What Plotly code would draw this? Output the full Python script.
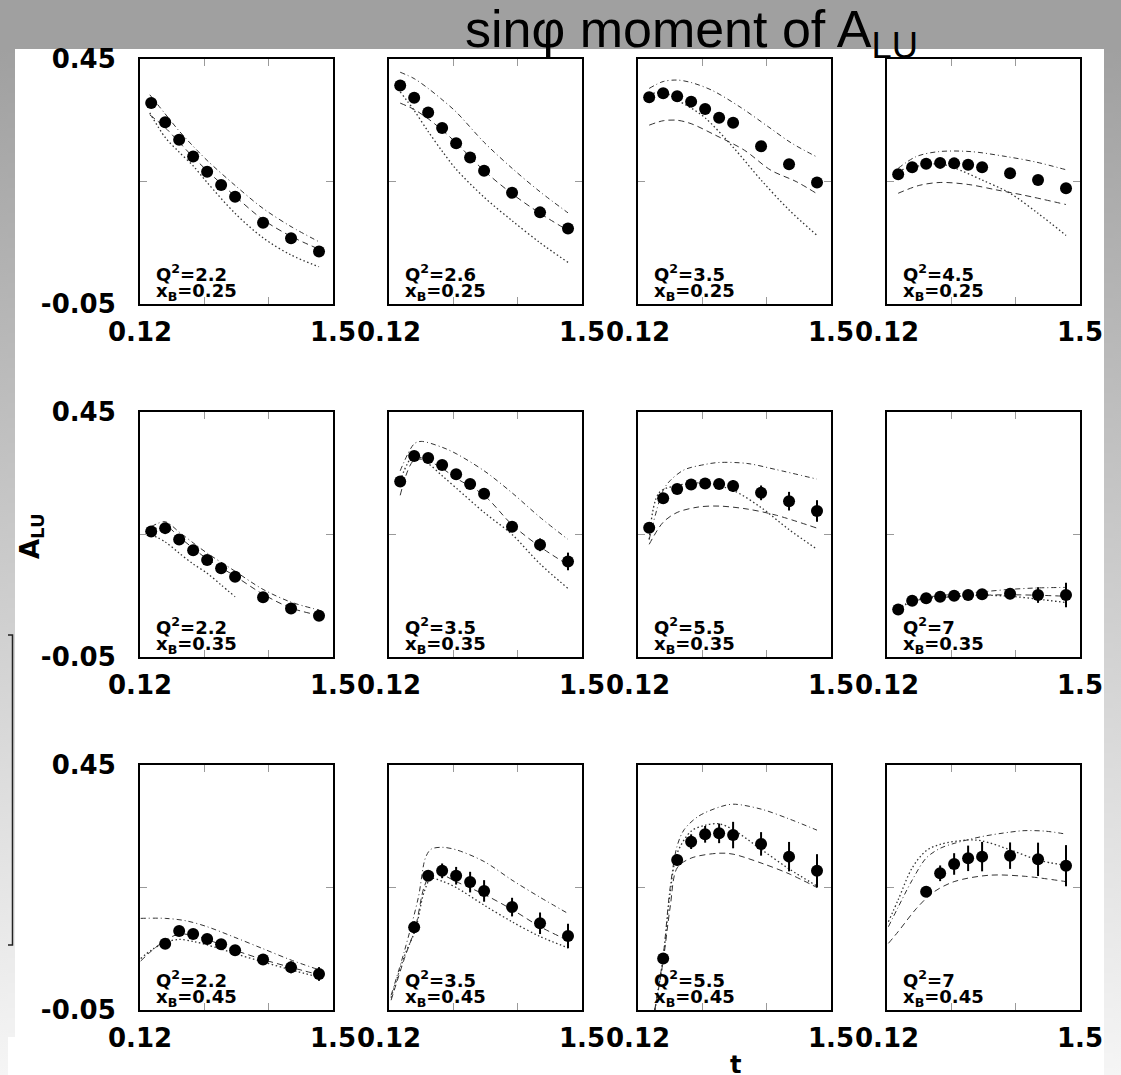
import plotly.graph_objects as go

# the page body keeps its default 8px margin, so the figure is placed 8px in
REF_W, REF_H = 1121, 1075
OFF = 8
W, H = REF_W - 2 * OFF, REF_H - OFF

# ---------------- data ----------------
Q2_LABELS = ["2.2", "2.6", "3.5", "4.5", "2.2", "3.5", "5.5", "7", "2.2", "3.5", "5.5", "7"]
XB_LABELS = ["0.25"] * 4 + ["0.35"] * 4 + ["0.45"] * 4

T_BINS = [0.2, 0.3, 0.4, 0.5, 0.6, 0.7, 0.8, 1.0, 1.2, 1.4]
POINT_T = [T_BINS] * 8 + [T_BINS[1:]] * 3 + [T_BINS[2:]]

POINT_A = [
    [0.360, 0.321, 0.285, 0.251, 0.220, 0.193, 0.169, 0.116, 0.084, 0.057],
    [0.396, 0.371, 0.341, 0.309, 0.278, 0.249, 0.222, 0.177, 0.137, 0.104],
    [0.372, 0.380, 0.374, 0.363, 0.348, 0.330, 0.320, 0.272, 0.235, 0.198],
    [0.215, 0.229, 0.236, 0.238, 0.237, 0.234, 0.229, 0.217, 0.203, 0.186],
    [0.206, 0.213, 0.190, 0.168, 0.148, 0.131, 0.114, 0.072, 0.049, 0.034],
    [0.308, 0.360, 0.356, 0.342, 0.323, 0.303, 0.283, 0.216, 0.179, 0.145],
    [0.214, 0.274, 0.293, 0.302, 0.304, 0.303, 0.299, 0.285, 0.268, 0.248],
    [0.047, 0.065, 0.070, 0.073, 0.075, 0.0765, 0.078, 0.079, 0.0765, 0.0765],
    [0.085, 0.111, 0.105, 0.095, 0.084, 0.072, 0.053, 0.037, 0.0235],
    [0.119, 0.224, 0.234, 0.224, 0.211, 0.193, 0.160, 0.127, 0.101],
    [0.055, 0.256, 0.2935, 0.3085, 0.3105, 0.307, 0.289, 0.263, 0.234],
    [0.1915, 0.229, 0.248, 0.2595, 0.263, 0.265, 0.2575, 0.2445],
]

POINT_ERR = [
    [0.004] * 10,
    [0.004] * 10,
    [0.004, 0.004, 0.004, 0.004, 0.005, 0.005, 0.005, 0.006, 0.007, 0.008],
    [0.004, 0.004, 0.004, 0.004, 0.004, 0.005, 0.005, 0.006, 0.008, 0.011],
    [0.004, 0.004, 0.004, 0.004, 0.004, 0.004, 0.004, 0.005, 0.005, 0.005],
    [0.004, 0.004, 0.005, 0.005, 0.006, 0.006, 0.007, 0.011, 0.013, 0.018],
    [0.006, 0.006, 0.006, 0.007, 0.008, 0.009, 0.012, 0.015, 0.019, 0.022],
    [0.004, 0.004, 0.004, 0.005, 0.005, 0.006, 0.008, 0.011, 0.016, 0.025],
    [0.006, 0.006, 0.007, 0.008, 0.009, 0.010, 0.011, 0.012, 0.014],
    [0.012, 0.009, 0.015, 0.018, 0.021, 0.022, 0.019, 0.022, 0.025],
    [0.011, 0.011, 0.015, 0.017, 0.020, 0.027, 0.024, 0.030, 0.034],
    [0.010, 0.016, 0.022, 0.026, 0.030, 0.027, 0.034, 0.042],
]

# model curves (dash-dot, dashed, dotted)
DASHDOT_T = [
    [0.19, 0.3, 0.4, 0.5, 0.6, 0.8, 1.0, 1.2, 1.4],
    [0.2, 0.3, 0.4, 0.5, 0.6, 0.8, 1.0, 1.2, 1.4],
    [0.2, 0.3, 0.4, 0.5, 0.65, 0.85, 1.05, 1.22, 1.4],
    [0.2, 0.33, 0.49, 0.72, 0.97, 1.18, 1.4],
    [0.2, 0.3, 0.4, 0.5, 0.6, 0.8, 1.0, 1.2, 1.4],
    [0.2, 0.3, 0.35, 0.5, 0.6, 0.8, 1.0, 1.2, 1.4],
    [0.2, 0.3, 0.35, 0.45, 0.6, 0.7, 0.9, 1.1, 1.4],
    [0.2, 0.3, 0.4, 0.6, 0.8, 1.0, 1.2, 1.4],
    [0.125, 0.3, 0.45, 0.6, 0.8, 1.0, 1.2, 1.4],
    [0.135, 0.23, 0.33, 0.38, 0.42, 0.5, 0.6, 0.8, 1.0, 1.2, 1.4],
    [0.24, 0.3, 0.35, 0.4, 0.45, 0.55, 0.7, 0.8, 1.0, 1.2, 1.4],
    [0.13, 0.2, 0.3, 0.4, 0.5, 0.6, 0.8, 1.0, 1.1, 1.25, 1.4],
]
DASHDOT_A = [
    [0.377, 0.338, 0.303, 0.272, 0.243, 0.192, 0.145, 0.108, 0.077],
    [0.423, 0.41, 0.39, 0.367, 0.342, 0.28, 0.227, 0.179, 0.136],
    [0.39, 0.404, 0.407, 0.402, 0.386, 0.352, 0.312, 0.278, 0.25],
    [0.227, 0.251, 0.261, 0.261, 0.251, 0.24, 0.224],
    [0.216, 0.226, 0.205, 0.183, 0.162, 0.125, 0.088, 0.062, 0.046],
    [0.33, 0.385, 0.39, 0.378, 0.365, 0.33, 0.285, 0.235, 0.19],
    [0.19, 0.29, 0.31, 0.332, 0.343, 0.347, 0.345, 0.333, 0.313],
    [0.05, 0.066, 0.072, 0.078, 0.083, 0.088, 0.091, 0.092],
    [0.137, 0.137, 0.132, 0.12, 0.098, 0.075, 0.052, 0.032],
    [-0.02, 0.07, 0.18, 0.26, 0.278, 0.282, 0.277, 0.253, 0.215, 0.18, 0.147],
    [-0.05, 0.06, 0.2, 0.285, 0.318, 0.345, 0.364, 0.37, 0.36, 0.34, 0.317],
    [0.12, 0.16, 0.215, 0.26, 0.28, 0.29, 0.304, 0.313, 0.316, 0.315, 0.309],
]

DASHED_T = [
    [0.19, 0.3, 0.4, 0.5, 0.6, 0.8, 1.0, 1.2, 1.4],
    [0.2, 0.3, 0.4, 0.5, 0.6, 0.8, 1.0, 1.2, 1.4],
    [0.2, 0.3, 0.4, 0.5, 0.67, 0.88, 1.07, 1.25, 1.4],
    [0.2, 0.35, 0.5, 0.7, 0.9, 1.1, 1.4],
    [0.2, 0.3, 0.4, 0.5, 0.6, 0.8, 1.0, 1.2, 1.4],
    [0.2, 0.3, 0.4, 0.5, 0.6, 0.8, 1.0, 1.2, 1.4],
    [0.2, 0.3, 0.4, 0.55, 0.7, 0.9, 1.1, 1.4],
    [0.2, 0.3, 0.4, 0.6, 0.8, 1.0, 1.2, 1.4],
    [0.125, 0.2, 0.3, 0.4, 0.5, 0.6, 0.8, 1.0, 1.2, 1.4],
    [0.135, 0.23, 0.31, 0.37, 0.42, 0.5, 0.6, 0.8, 1.0, 1.2, 1.4],
    [0.24, 0.3, 0.35, 0.4, 0.5, 0.7, 0.8, 1.0, 1.2, 1.4],
    [0.13, 0.2, 0.33, 0.45, 0.6, 0.85, 1.1, 1.4],
]
DASHED_A = [
    [0.336, 0.31, 0.28, 0.25, 0.222, 0.17, 0.122, 0.088, 0.062],
    [0.36, 0.347, 0.328, 0.305, 0.279, 0.222, 0.175, 0.135, 0.1],
    [0.315, 0.324, 0.325, 0.318, 0.295, 0.264, 0.223, 0.2, 0.175],
    [0.176, 0.192, 0.198, 0.194, 0.183, 0.172, 0.153],
    [0.206, 0.218, 0.195, 0.172, 0.15, 0.115, 0.078, 0.05, 0.035],
    [0.28, 0.352, 0.35, 0.335, 0.315, 0.28, 0.22, 0.175, 0.138],
    [0.18, 0.225, 0.245, 0.256, 0.258, 0.252, 0.24, 0.213],
    [0.046, 0.063, 0.069, 0.073, 0.076, 0.077, 0.076, 0.074],
    [0.05, 0.07, 0.092, 0.105, 0.102, 0.094, 0.072, 0.053, 0.037, 0.022],
    [-0.03, 0.055, 0.12, 0.2, 0.228, 0.226, 0.212, 0.186, 0.155, 0.12, 0.092],
    [-0.05, 0.05, 0.16, 0.24, 0.26, 0.27, 0.268, 0.25, 0.228, 0.2],
    [0.086, 0.11, 0.157, 0.19, 0.212, 0.225, 0.223, 0.212],
]

DOTTED_T = [
    [0.19, 0.3, 0.4, 0.5, 0.6, 0.8, 1.0, 1.2, 1.4],
    [0.2, 0.3, 0.4, 0.5, 0.6, 0.8, 1.0, 1.2, 1.4],
    [0.2, 0.3, 0.4, 0.5, 0.6, 0.8, 1.0, 1.2, 1.4],
    [0.2, 0.35, 0.5, 0.6, 0.8, 1.0, 1.2, 1.4],
    [0.2, 0.3, 0.4, 0.5, 0.6, 0.7, 0.8],
    [0.2, 0.3, 0.4, 0.5, 0.6, 0.8, 1.0, 1.2, 1.4],
    [0.2, 0.27, 0.4, 0.6, 0.8, 1.0, 1.2, 1.4],
    [0.2, 0.3, 0.4, 0.6, 0.8, 1.0, 1.2, 1.4],
    [0.125, 0.2, 0.3, 0.4, 0.5, 0.6, 0.8, 1.0, 1.2, 1.4],
    [0.135, 0.23, 0.31, 0.37, 0.42, 0.5, 0.6, 0.8, 1.0, 1.2, 1.4],
    [0.24, 0.3, 0.35, 0.4, 0.5, 0.6, 0.7, 0.8, 1.0, 1.2, 1.4],
    [0.13, 0.2, 0.3, 0.4, 0.5, 0.7, 0.8, 1.0, 1.2, 1.4],
]
DOTTED_A = [
    [0.34, 0.29, 0.26, 0.232, 0.198, 0.135, 0.085, 0.05, 0.026],
    [0.383, 0.345, 0.302, 0.262, 0.225, 0.168, 0.12, 0.075, 0.035],
    [0.377, 0.383, 0.366, 0.35, 0.33, 0.27, 0.203, 0.142, 0.09],
    [0.222, 0.232, 0.236, 0.228, 0.203, 0.176, 0.135, 0.09],
    [0.2, 0.185, 0.162, 0.14, 0.121, 0.097, 0.073],
    [0.31, 0.362, 0.345, 0.32, 0.295, 0.245, 0.2, 0.14, 0.09],
    [0.19, 0.285, 0.3, 0.305, 0.29, 0.255, 0.21, 0.17],
    [0.047, 0.064, 0.07, 0.074, 0.076, 0.074, 0.068, 0.061],
    [0.055, 0.072, 0.088, 0.094, 0.09, 0.083, 0.065, 0.048, 0.032, 0.017],
    [-0.025, 0.06, 0.115, 0.19, 0.218, 0.213, 0.2, 0.164, 0.13, 0.1, 0.077],
    [-0.05, 0.055, 0.19, 0.27, 0.315, 0.327, 0.33, 0.318, 0.278, 0.238, 0.203],
    [0.13, 0.175, 0.24, 0.275, 0.288, 0.297, 0.295, 0.277, 0.256, 0.245],
]

X_RANGE = [0.12, 1.5]
Y_RANGE = [-0.05, 0.45]
X_TICKS = [0.12, 0.58, 1.04, 1.5]
X_TICKTEXT = ["0.12", "", "", "1.5"]
Y_TICKS = [-0.05, 0.2, 0.45]
Y_TICKTEXT = ["-0.05", "", "0.45"]

# ---------------- layout geometry (pixels of the reference page) ----------------
COL_LEFT = [140, 389, 638, 887]
PANEL_W = 193
ROW_TOP = [59, 412, 765]
PANEL_H = 245


def px(x):
    return (x - OFF) / W


def py(y):
    return 1 - (y - OFF) / H


BOLD = dict(family="DejaVu Sans", weight="bold", color="black")
CURVE_COLOR = "#333333"

fig = go.Figure()
layout = {}
annotations = []

for k in range(12):
    r, c = divmod(k, 4)
    xa = "x" if k == 0 else f"x{k + 1}"
    ya = "y" if k == 0 else f"y{k + 1}"
    xkey = "xaxis" if k == 0 else f"xaxis{k + 1}"
    ykey = "yaxis" if k == 0 else f"yaxis{k + 1}"

    L = COL_LEFT[c]
    T = ROW_TOP[r]
    layout[xkey] = dict(
        domain=[px(L), px(L + PANEL_W)], anchor=ya, range=X_RANGE,
        tickmode="array", tickvals=X_TICKS, ticktext=X_TICKTEXT,
        ticks="inside", ticklen=7, tickwidth=1, tickcolor="#9a9a9a",
        showline=True, linecolor="black", linewidth=2, mirror="ticks",
        showgrid=False, zeroline=False, automargin=False,
        tickfont=dict(size=26, **BOLD), ticklabelstandoff=4,
    )
    layout[ykey] = dict(
        domain=[py(T + PANEL_H), py(T)], anchor=xa, range=Y_RANGE,
        tickmode="array", tickvals=Y_TICKS, ticktext=Y_TICKTEXT,
        ticks="inside", ticklen=7, tickwidth=1, tickcolor="#9a9a9a",
        showline=True, linecolor="black", linewidth=2, mirror="ticks",
        showgrid=False, zeroline=False, showticklabels=(c == 0), automargin=False,
        tickfont=dict(size=26, **BOLD), ticklabelstandoff=17,
    )

    fig.add_trace(go.Scatter(
        x=DASHDOT_T[k], y=DASHDOT_A[k], xaxis=xa, yaxis=ya, mode="lines",
        line=dict(color=CURVE_COLOR, width=1, dash="5px,3px,1px,3px", shape="spline", smoothing=0.9),
        hoverinfo="skip"))
    fig.add_trace(go.Scatter(
        x=DASHED_T[k], y=DASHED_A[k], xaxis=xa, yaxis=ya, mode="lines",
        line=dict(color=CURVE_COLOR, width=1, dash="6px,4px", shape="spline", smoothing=0.9),
        hoverinfo="skip"))
    fig.add_trace(go.Scatter(
        x=DOTTED_T[k], y=DOTTED_A[k], xaxis=xa, yaxis=ya, mode="lines",
        line=dict(color=CURVE_COLOR, width=1.3, dash="1.5px,2.5px", shape="spline", smoothing=0.9),
        hoverinfo="skip"))
    fig.add_trace(go.Scatter(
        x=POINT_T[k], y=POINT_A[k], xaxis=xa, yaxis=ya, mode="markers",
        marker=dict(color="black", size=12, line=dict(width=0)),
        error_y=dict(type="data", array=POINT_ERR[k], color="black", thickness=2, width=0),
        cliponaxis=False))

    annotations.append(dict(
        text=f"<b>Q<sup>2</sup>={Q2_LABELS[k]}</b>", xref=f"{xa} domain", yref=f"{ya} domain",
        x=0, y=0, xanchor="left", yanchor="middle", xshift=14, yshift=31,
        showarrow=False, font=dict(size=18, **BOLD)))
    annotations.append(dict(
        text=f"<b>x<sub>B</sub>={XB_LABELS[k]}</b>", xref=f"{xa} domain", yref=f"{ya} domain",
        x=0, y=0, xanchor="left", yanchor="middle", xshift=14, yshift=12,
        showarrow=False, font=dict(size=18, **BOLD)))

# title and axis titles
annotations.append(dict(
    text="sinφ moment of A<sub>LU</sub>", xref="paper", yref="paper",
    x=px(463), y=py(8), xanchor="left", yanchor="top", yshift=10, showarrow=False,
    font=dict(family="Liberation Sans, Arial", size=52, color="black")))
annotations.append(dict(
    text="<b>A<sub>LU</sub></b>", xref="paper", yref="paper",
    x=px(31), y=py(536), xanchor="center", yanchor="middle", textangle=-90,
    showarrow=False, font=dict(size=26, **BOLD)))
annotations.append(dict(
    text="<b>t</b>", xref="paper", yref="paper",
    x=px(735), y=py(1065), xanchor="center", yanchor="middle",
    showarrow=False, font=dict(size=24, **BOLD)))


def gray_at(y):
    return int(round(160 + 0.083 * max(y - 49, 0)))


# background: vertical gray gradient frame with white page on top
shapes = []
step = 5
for yy in range(OFF, REF_H, step):
    g = gray_at(yy + step / 2)
    shapes.append(dict(type="rect", xref="paper", yref="paper", layer="below",
                       x0=0, x1=1, y0=max(py(yy + step), 0), y1=py(yy),
                       fillcolor=f"rgb({g},{g},{g})", line=dict(width=0)))
shapes.append(dict(type="rect", xref="paper", yref="paper", layer="below",
                   x0=px(15), x1=px(1104), y0=0, y1=py(49),
                   fillcolor="white", line=dict(width=0)))
shapes.append(dict(type="rect", xref="paper", yref="paper", layer="below",
                   x0=0, x1=px(15), y0=0, y1=py(1037),
                   fillcolor="white", line=dict(width=0)))
# boxes at the left edge
shapes.append(dict(type="rect", xref="paper", yref="paper", layer="above",
                   x0=px(-2), x1=px(6.5), y0=py(432), y1=py(120),
                   line=dict(color="#222222", width=1.5), fillcolor="rgba(0,0,0,0)"))
shapes.append(dict(type="rect", xref="paper", yref="paper", layer="above",
                   x0=px(-2), x1=px(12.5), y0=py(945), y1=py(635),
                   line=dict(color="#222222", width=1.5), fillcolor="rgba(0,0,0,0)"))

fig.update_layout(
    width=W, height=H, autosize=False,
    margin=dict(l=0, r=0, t=0, b=0, autoexpand=False),
    paper_bgcolor="white", plot_bgcolor="white",
    showlegend=False,
    annotations=annotations, shapes=shapes,
    **layout,
)

page_bg = (
    "document.body.style.background="
    "'linear-gradient(to bottom, rgb(160,160,160) 49px, rgb(245,245,245) 1075px) fixed';"
)

fig.write_html(
    "out.html",
    config={"displayModeBar": False, "responsive": False},
    post_script=page_bg,
)
